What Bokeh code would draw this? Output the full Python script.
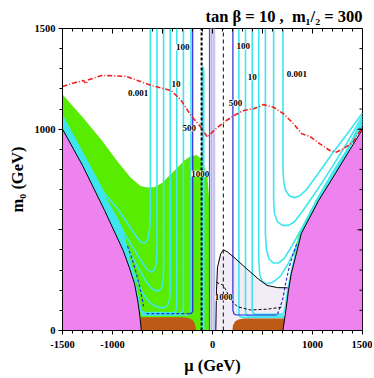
from bokeh.plotting import figure
from bokeh.models import Range1d, FixedTicker, Label, Title
from bokeh.embed import file_html
from bokeh.resources import INLINE

# ---------------- axis ticks ----------------
mu_major = [-1500, -1000, -500, 0, 500, 1000, 1500]
mu_tick_text = ["-1500", "-1000", "", "0", "", "1000", "1500"]
mu_minor = [-1500, -1400, -1300, -1200, -1100, -1000, -900, -800, -700, -600, -500, -400, -300,
            -200, -100, 0, 100, 200, 300, 400, 500, 600, 700, 800, 900, 1000, 1100, 1200, 1300, 1400, 1500]
m0_major = [0, 500, 1000, 1500]
m0_tick_text = ["0", "", "1000", "1500"]
m0_minor = [0, 100, 200, 300, 400, 500, 600, 700, 800, 900, 1000, 1100, 1200, 1300, 1400, 1500]

# ---------------- regions (mu, m0) ----------------
pink_left = [(-1500, 0), (-1500, 1000), (-1300, 820), (-1080, 597), (-893, 397), (-830, 310),
             (-780, 233), (-745, 140), (-725, 65), (-712, 0)]
pink_right = [(1500, 0), (1500, 1000), (1186, 745), (1062, 646), (888, 482), (846, 397),
              (788, 283), (760, 200), (738, 116), (704, 0)]
brown_left = [(-712, 0), (-725, 66), (-300, 66), (-240, 62), (-200, 52), (-178, 35), (-168, 15), (-165, 0)]
brown_right = [(198, 0), (205, 25), (225, 45), (260, 55), (320, 59), (730, 59), (704, 0)]
green_left = [(-1500, 1172), (-1300, 1060), (-1100, 940), (-950, 840), (-820, 760), (-720, 718),
              (-650, 710), (-580, 712), (-500, 735), (-420, 775), (-340, 815), (-280, 845),
              (-220, 866), (-160, 872), (-110, 852), (-80, 815), (-50, 762), (-33, 646),
              (-18, 546), (-18, 0), (-712, 0), (-1500, 1000)]
green_right = [(825, 382), (858, 440), (880, 482), (940, 540), (1000, 590), (1045, 646)]
lavender = [(33, 0), (40, 200), (50, 314), (82, 381), (109, 401), (150, 390), (214, 364),
            (300, 325), (380, 290), (460, 255), (545, 224), (650, 213), (750, 212), (800, 212), (800, 0)]
lavender_edge = [(33, 0), (40, 200), (50, 314), (82, 381), (109, 401), (150, 390), (214, 364),
                 (300, 325), (380, 290), (460, 255), (545, 224), (650, 213), (750, 212)]
strip_mu = (-30, 30)
cyan_band = [(-1500, 1064), (-1300, 880), (-1082, 676), (-950, 560), (-880, 470), (-830, 370),
             (-790, 270), (-780, 233), (-1500, 900)]

# ---------------- cyan contours ----------------
cyan_L1 = [(-621, 1500), (-621, 600), (-626, 510), (-645, 455), (-675, 435), (-710, 437), (-760, 465),
           (-880, 555), (-950, 605), (-1080, 680), (-1300, 882), (-1500, 1066)]
cyan_L2 = [(-555, 1500), (-555, 420), (-560, 340), (-580, 300), (-610, 290), (-650, 300), (-700, 335),
           (-780, 400), (-880, 480), (-950, 550), (-1080, 660), (-1300, 870), (-1500, 1056)]
cyan_L3 = [(-489, 1500), (-489, 300), (-495, 240), (-515, 205), (-550, 195), (-600, 205), (-660, 240),
           (-730, 300), (-820, 380), (-880, 440), (-950, 520), (-1080, 645), (-1300, 860), (-1500, 1046)]
cyan_L4 = [(-423, 1500), (-423, 200), (-430, 150), (-455, 120), (-500, 112), (-560, 118), (-630, 140),
           (-700, 185), (-760, 250), (-830, 340), (-880, 415), (-950, 500), (-1080, 630), (-1300, 850), (-1500, 1036)]
cyan_L5 = [(-357, 1500), (-357, 130), (-365, 98), (-390, 88), (-690, 90), (-720, 100), (-735, 140),
           (-760, 200), (-800, 278), (-850, 355), (-880, 400), (-950, 480), (-1080, 618), (-1300, 840), (-1500, 1026)]
cyan_L6 = [(-291, 1500), (-291, 112), (-300, 92), (-330, 84), (-680, 82), (-712, 92), (-728, 120),
           (-745, 165), (-775, 228), (-820, 300), (-870, 372), (-950, 470), (-1080, 608), (-1300, 830), (-1500, 1014)]
cyan_L7 = [(-215, 1500), (-215, 100), (-225, 85), (-250, 77), (-690, 76), (-718, 82)]
cyan_R1 = [(705, 1500), (705, 800), (712, 740), (730, 695), (770, 668), (820, 660), (870, 668),
           (940, 700), (1050, 775), (1200, 880), (1350, 978), (1500, 1080)]
cyan_R2 = [(611, 1500), (611, 650), (620, 580), (650, 540), (700, 522), (760, 522), (820, 540),
           (900, 592), (1050, 700), (1200, 815), (1350, 935), (1500, 1066)]
cyan_R3 = [(529, 1500), (529, 480), (540, 400), (565, 355), (610, 335), (660, 335), (720, 360),
           (800, 425), (900, 515), (1050, 655), (1200, 785), (1350, 900), (1500, 1052)]
cyan_R4 = [(463, 1500), (463, 350), (472, 280), (495, 245), (540, 232), (600, 238), (680, 270),
           (760, 335), (850, 430), (950, 550), (1100, 686), (1300, 852), (1500, 1040)]
cyan_R5 = [(397, 1500), (397, 110), (405, 88), (430, 80), (700, 80), (720, 95), (735, 140), (752, 200),
           (775, 260), (800, 320), (840, 405), (880, 485), (950, 558), (1050, 645), (1100, 685),
           (1300, 845), (1500, 1025)]
cyan_R6 = [(330, 1500), (330, 95), (340, 78), (365, 72), (715, 72)]
cyan_R7 = [(264, 1500), (264, 85), (275, 70), (300, 65), (725, 65)]
cyan_hairpin = [(-104, 0), (-104, 1290), (-96, 1312), (-88, 1290), (-88, 0)]

# ---------------- blue / black / red lines ----------------
blue_left = [(-198, 1500), (-198, 95), (-210, 86), (-240, 83)]
blue_right = [(204, 1500), (204, 100), (215, 82), (240, 77), (640, 77)]
blue_strip = [(-30, 0), (-30, 1500)]
lightblue_a = [(-8, 0), (-8, 1500)]
lightblue_b = [(15, 0), (15, 1500)]
bluedash_left = [(-850, 420), (-800, 350), (-760, 280), (-720, 200), (-700, 150), (-690, 120)]
bluedash_bottom = [(-661, 84), (-240, 84)]
bluedash_right = [(650, 80), (700, 150), (730, 230), (760, 300), (800, 370), (843, 432)]
black_dash_curve = [(40, 240), (70, 232), (100, 228), (130, 205), (180, 155), (248, 118),
                    (380, 102), (550, 106), (694, 116)]
dash_mu_left = -109
dash_mu_right = 109
red_line = [(-1500, 1212), (-1400, 1228), (-1290, 1242), (-1265, 1226), (-1240, 1245), (-1107, 1267),
            (-990, 1265), (-860, 1262), (-740, 1240), (-612, 1217), (-413, 1192), (-314, 1143),
            (-215, 1068), (-116, 1010), (-50, 960), (16, 994), (115, 1035), (215, 1068), (314, 1093),
            (413, 1101), (512, 1122), (611, 1109), (711, 1076), (810, 1027), (893, 977), (975, 964),
            (1074, 927), (1174, 894), (1240, 886), (1306, 902), (1405, 935), (1500, 1010)]

# ---------------- contour labels ----------------
clabel_text = ["100", "100", "10", "10", "0.001", "0.001", "500", "500", "1000", "1000"]
clabel_mu = [-298, 308, -364, 397, -744, 843, -232, 231, -123, 112]
clabel_m0 = [1407, 1411, 1222, 1258, 1179, 1275, 1005, 1131, 778, 164]

title_text = "tan β = 10 ,\u00a0 m₁/₂ = 300"
xlabel_text = "μ (GeV)"
ylabel_text = "m₀ (GeV)"

PINK = "#EE82EE"
BROWN = "#BF5A16"
GREEN = "#58EC00"
CYAN = "#3EE6EE"
LAV = "#F1ECF6"
BLUE = "#2A2ADD"
RED = "#F02020"
FONT = "Liberation Serif"


def xs(pts):
    return [a for a, b in pts]


def ys(pts):
    return [b for a, b in pts]


p = figure(width=372, height=378, x_range=Range1d(-1500, 1500), y_range=Range1d(0, 1500),
           output_backend="svg", toolbar_location=None,
           min_border_left=60, min_border_right=10, min_border_top=28, min_border_bottom=48)
p.grid.visible = False
p.outline_line_color = "black"
p.background_fill_color = "white"

# regions
p.patch(xs(green_left), ys(green_left), fill_color=GREEN, line_color=None)
p.patch(xs(lavender), ys(lavender), fill_color=LAV, line_color=None)
p.quad(left=[strip_mu[0]], right=[strip_mu[1]], bottom=[0], top=[1500], fill_color="#E4E0F6", line_color=None)
p.patch(xs(cyan_band), ys(cyan_band), fill_color=CYAN, line_color=None)
p.line(xs(green_right), ys(green_right), line_color=GREEN, line_width=3)

# cyan contours
for c in [cyan_L1, cyan_L2, cyan_L3, cyan_L4, cyan_L5, cyan_L6, cyan_L7,
          cyan_R1, cyan_R2, cyan_R3, cyan_R4, cyan_R5, cyan_R6, cyan_R7, cyan_hairpin]:
    p.line(xs(c), ys(c), line_color=CYAN, line_width=1.6)

# blue lines
p.line(xs(blue_left), ys(blue_left), line_color=BLUE, line_width=1.2)
p.line(xs(blue_right), ys(blue_right), line_color=BLUE, line_width=1.2)
p.line(xs(blue_strip), ys(blue_strip), line_color="#5050E6", line_width=1.2)
p.line(xs(lightblue_a), ys(lightblue_a), line_color="#A8A8F0", line_width=1)
p.line(xs(lightblue_b), ys(lightblue_b), line_color="#A8A8F0", line_width=1)
for c in [bluedash_left, bluedash_bottom, bluedash_right]:
    p.line(xs(c), ys(c), line_color=BLUE, line_width=1.2, line_dash="3 2")

# excluded regions
p.patch(xs(brown_left), ys(brown_left), fill_color=BROWN, line_color=None)
p.patch(xs(brown_right), ys(brown_right), fill_color=BROWN, line_color=None)
p.patch(xs(pink_left), ys(pink_left), fill_color=PINK, line_color="black", line_width=1)
p.patch(xs(pink_right), ys(pink_right), fill_color=PINK, line_color="black", line_width=1)

# black lines
p.line(xs(lavender_edge), ys(lavender_edge), line_color="black", line_width=1)
p.line(xs(black_dash_curve), ys(black_dash_curve), line_color="black", line_width=1, line_dash="3 2")
p.line([dash_mu_left, dash_mu_left], [0, 1500], line_color="black", line_width=2, line_dash="3 2")
p.line([dash_mu_right, dash_mu_right], [0, 1500], line_color="#333333", line_width=1.2, line_dash="4 3")

# red line
p.line(xs(red_line), ys(red_line), line_color=RED, line_width=1.6, line_dash="5 2 1 2")

# contour labels
for t, x, y in zip(clabel_text, clabel_mu, clabel_m0):
    p.add_layout(Label(x=x, y=y, text=t, text_align="center", text_baseline="middle",
                       text_font=FONT, text_font_style="bold", text_font_size="9px",
                       text_color="black", background_fill_color="white"))

# inward ticks on the top and right edges (lengths in data units ~ 5 px / 3 px)
p.segment(x0=mu_major, y0=[1500] * len(mu_major), x1=mu_major, y1=[1475] * len(mu_major),
          line_color="black", line_width=1)
p.segment(x0=mu_minor, y0=[1500] * len(mu_minor), x1=mu_minor, y1=[1485] * len(mu_minor),
          line_color="black", line_width=1)
p.segment(x0=[1500] * len(m0_major), y0=m0_major, x1=[1450] * len(m0_major), y1=m0_major,
          line_color="black", line_width=1)
p.segment(x0=[1500] * len(m0_minor), y0=m0_minor, x1=[1470] * len(m0_minor), y1=m0_minor,
          line_color="black", line_width=1)

# axes
for ax, major, txt, minor in [(p.xaxis[0], mu_major, mu_tick_text, mu_minor),
                              (p.yaxis[0], m0_major, m0_tick_text, m0_minor)]:
    ax.ticker = FixedTicker(ticks=major, minor_ticks=minor)
    ax.major_label_overrides = {k: v for k, v in zip(major, txt)}
    ax.major_tick_in = 0
    ax.major_tick_out = 4
    ax.minor_tick_in = 0
    ax.minor_tick_out = 3
    ax.axis_line_color = "black"
    ax.major_label_text_font = FONT
    ax.major_label_text_font_style = "bold"
    ax.major_label_text_font_size = "10.5px"
    ax.major_label_text_color = "black"
p.xaxis[0].major_label_standoff = 6
p.yaxis[0].major_label_standoff = 3

# x-axis title (below, shifted slightly right like the reference)
p.add_layout(Title(text=xlabel_text, align="center", offset=5, standoff=7, text_font=FONT,
                   text_font_style="bold", text_font_size="16.5px", text_color="black"), "below")

# y-axis title (offset upward like the reference)
p.add_layout(Title(text=ylabel_text, align="center", offset=37, standoff=10, text_font=FONT,
                   text_font_style="bold", text_font_size="16.5px", text_color="black"), "left")

# plot title
p.title.text = title_text
p.title.align = "right"
p.title.text_font = FONT
p.title.text_font_style = "bold"
p.title.text_font_size = "16.5px"
p.title.text_color = "black"
p.title.standoff = 6

open("out.html", "w").write(file_html(p, INLINE))
